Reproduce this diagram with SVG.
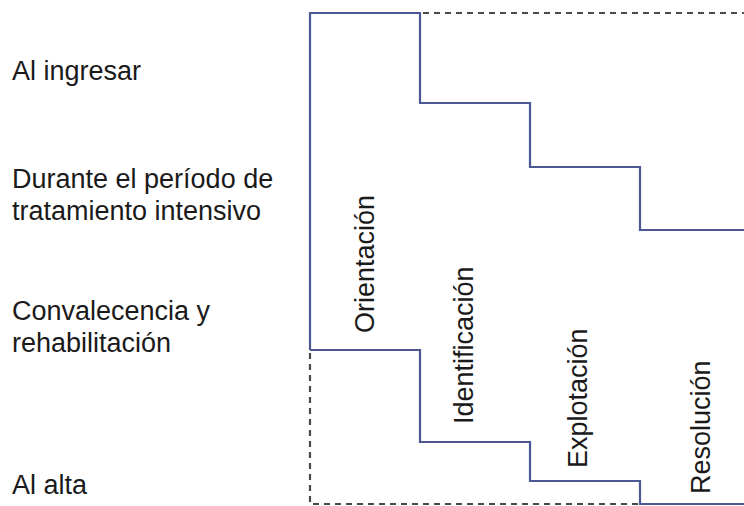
<svg xmlns="http://www.w3.org/2000/svg" width="744" height="506" viewBox="0 0 744 506">
  <style>
    .lbl { font-family: "Liberation Sans", Arial, Helvetica, sans-serif; font-size: 27px; fill: #1a1a1a; }
    .blue { fill: none; stroke: #4b5893; stroke-width: 2.2; stroke-linejoin: miter; }
    .dash { fill: none; stroke: #4a4a4a; stroke-width: 2.2; stroke-dasharray: 6 5; }
  </style>
  <rect width="744" height="506" fill="#ffffff"/>
  <g id="connectors">
    <path class="dash" d="M423,13 H744"/>
    <path class="dash" d="M310,353 V504 H638"/>
    <path class="blue" d="M310,350 V13 H420 V103 H530 V167 H640 V230 H744"/>
    <path class="blue" d="M310,350 H420 V442 H530 V481 H640 V504 H744"/>
  </g>
  <g id="time-labels">
    <text class="lbl" x="12" y="80">Al ingresar</text>
    <text class="lbl" x="12" y="188">Durante el período de</text>
    <text class="lbl" x="12" y="220">tratamiento intensivo</text>
    <text class="lbl" x="12" y="320">Convalecencia y</text>
    <text class="lbl" x="12" y="352">rehabilitación</text>
    <text class="lbl" x="12" y="494">Al alta</text>
  </g>
  <g id="phase-orientacion">
    <text class="lbl" transform="translate(374,333) rotate(-90)">Orientación</text>
  </g>
  <g id="phase-identificacion">
    <text class="lbl" transform="translate(473,424) rotate(-90)">Identificación</text>
  </g>
  <g id="phase-explotacion">
    <text class="lbl" transform="translate(587,468) rotate(-90)">Explotación</text>
  </g>
  <g id="phase-resolucion">
    <text class="lbl" transform="translate(710,494) rotate(-90)">Resolución</text>
  </g>
</svg>
